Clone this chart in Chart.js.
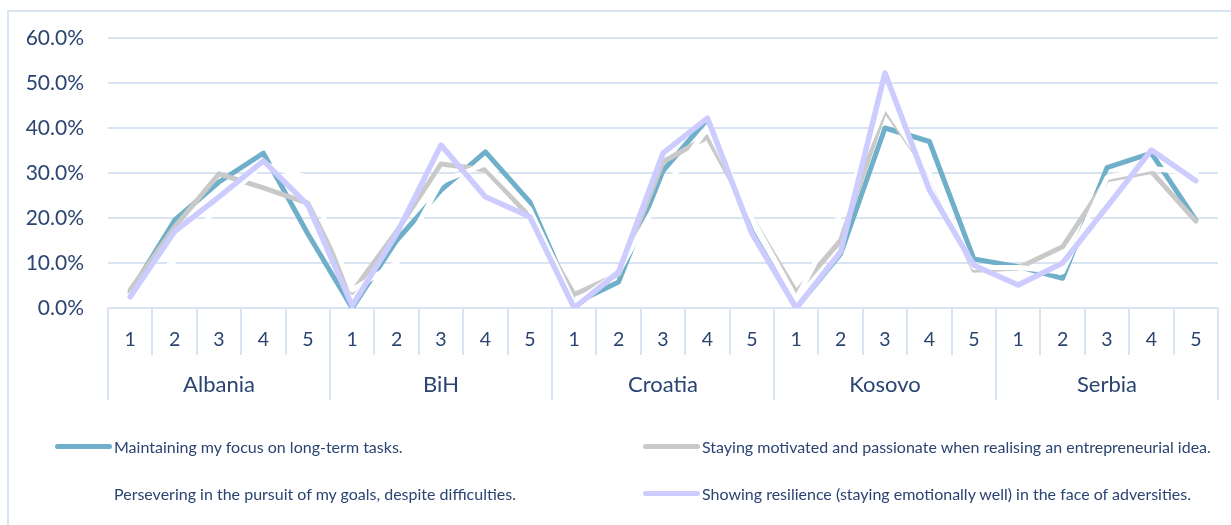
<!DOCTYPE html>
<html>
<head>
<meta charset="utf-8">
<script src="https://cdn.jsdelivr.net/npm/chart.js@4.4.1/dist/chart.umd.min.js"></script>
<style>
  body { margin: 0; background: #fff; }
  #wrap { position: relative; width: 1231px; height: 525px; overflow: hidden; font-family: Lato, "Open Sans", sans-serif; }
  #frame { position: absolute; left: 7px; top: 10px; width: 1260px; height: 560px; border: 2px solid #DAE5F2; pointer-events: none; }
  #legend { position: absolute; left: 0; top: 0; width: 1231px; height: 525px; pointer-events: none; }
  .item { position: absolute; display: flex; align-items: center; font-size: 16px; color: #2B4472; white-space: nowrap; }
  .swatch { width: 57px; height: 5px; border-radius: 3px; margin-right: 2px; }
</style>
</head>
<body>
<div id="wrap">
  <canvas id="myChart" width="1231" height="525"></canvas>
  <div id="frame"></div>
  <div id="legend"></div>
</div>
<script>
const countries = ["Albania", "BiH", "Croatia", "Kosovo", "Serbia"];
const scores = ["1", "2", "3", "4", "5"];
const yTicks = [0, 10, 20, 30, 40, 50, 60];

const seriesNames = [
  "Maintaining my focus on long-term tasks.",
  "Staying motivated and passionate when realising an entrepreneurial idea.",
  "Persevering in the pursuit of my goals, despite difficulties.",
  "Showing resilience (staying emotionally well) in the face of adversities."
];
const seriesColors = ["#6FAFCA", "#C9C9C9", "#FFFFFF", "#CCCCFF"];

// values in %, 5 scores per country
const focus = [3.5, 19.5, 28, 34.4, 16.5,  0, 15, 26.2, 34.7, 23.6,  1, 5.8, 30.5, 42, 17,  0, 12, 40, 37, 10.9,  9.2, 6.6, 31.2, 34.4, 19.5];
const motivated = [4, 18, 29.8, 26.7, 23.3,  3.5, 17, 32, 30.7, 20.3,  3, 7.5, 32.5, 38, 20,  3.5, 15, 44, 30, 8.4,  8.9, 13.6, 28.5, 30.3, 19.3];
const persevering = [3, 10.5, 23, 32, 29,  4, 10, 28, 32, 22,  1, 8, 26, 40, 20,  2, 21, 45, 30, 9,  9, 8, 29, 31, 30];
const resilience = [2.5, 17, 24.7, 32.7, 22.9,  0.5, 16.5, 36.2, 24.7, 20.3,  0, 8, 34.4, 42.2, 16.6,  0, 12.5, 52.2, 26.2, 9.5,  5.1, 10, 22.5, 35.1, 28.3];

const labels = [];
countries.forEach(() => scores.forEach(s => labels.push(s)));

const allSeries = [focus, motivated, persevering, resilience];
const textColor = "#2B4472";
const gridColor = "#D9E4F2";

const ctx = document.getElementById("myChart");
const myChart = new Chart(ctx, {
  type: "line",
  data: {
    labels: labels,
    datasets: allSeries.map((vals, i) => ({
      label: seriesNames[i],
      data: vals,
      borderColor: seriesColors[i],
      backgroundColor: seriesColors[i],
      borderWidth: i === 3 ? 5.5 : 5,
      borderJoinStyle: "round",
      borderCapStyle: "round",
      pointRadius: 0,
      tension: 0,
      order: 3 - i
    }))
  },
  options: {
    responsive: false,
    animation: false,
    layout: { padding: { left: 8, top: 38, right: 13, bottom: 125 } },
    plugins: { legend: { display: false }, tooltip: { enabled: false } },
    scales: {
      x: {
        type: "category",
        offset: true,
        border: { display: false },
        grid: { offset: true, drawOnChartArea: false, tickLength: 47, color: gridColor, lineWidth: 2 },
        ticks: { autoSkip: false, maxRotation: 0, padding: -27, color: textColor, font: { family: "Lato", size: 19.5 } },
        afterFit: (scale) => { scale.height = 47; }
      },
      x2: {
        type: "category",
        labels: countries,
        position: "bottom",
        offset: true,
        border: { display: false },
        grid: { offset: true, drawOnChartArea: false, tickLength: 45, color: gridColor, lineWidth: 2 },
        ticks: { autoSkip: false, maxRotation: 0, padding: -28, color: textColor, font: { family: "Lato", size: 22 } },
        afterFit: (scale) => { scale.height = 45; }
      },
      y: {
        min: 0,
        max: 60,
        border: { display: false },
        grid: { color: gridColor, lineWidth: 2, drawTicks: false },
        afterBuildTicks: (scale) => { scale.ticks = yTicks.map(v => ({ value: v })); },
        ticks: {
          padding: 24,
          color: textColor,
          font: { family: "Lato", size: 21 },
          callback: (v) => v.toFixed(1) + "%"
        },
        afterFit: (scale) => { scale.width = 100; }
      }
    }
  }
});
myChart;

/* legend, two columns like the original */
const legendPos = [[55, 446], [643, 446], [55, 493], [643, 493]];
const legendBox = document.getElementById("legend");
seriesNames.forEach((name, i) => {
  const item = document.createElement("div");
  item.className = "item";
  item.style.left = legendPos[i][0] + "px";
  item.style.top = (legendPos[i][1] - 10) + "px";
  item.style.height = "20px";
  const sw = document.createElement("span");
  sw.className = "swatch";
  sw.style.background = seriesColors[i];
  const tx = document.createElement("span");
  tx.textContent = name;
  item.appendChild(sw);
  item.appendChild(tx);
  legendBox.appendChild(item);
});
</script>
</body>
</html>
